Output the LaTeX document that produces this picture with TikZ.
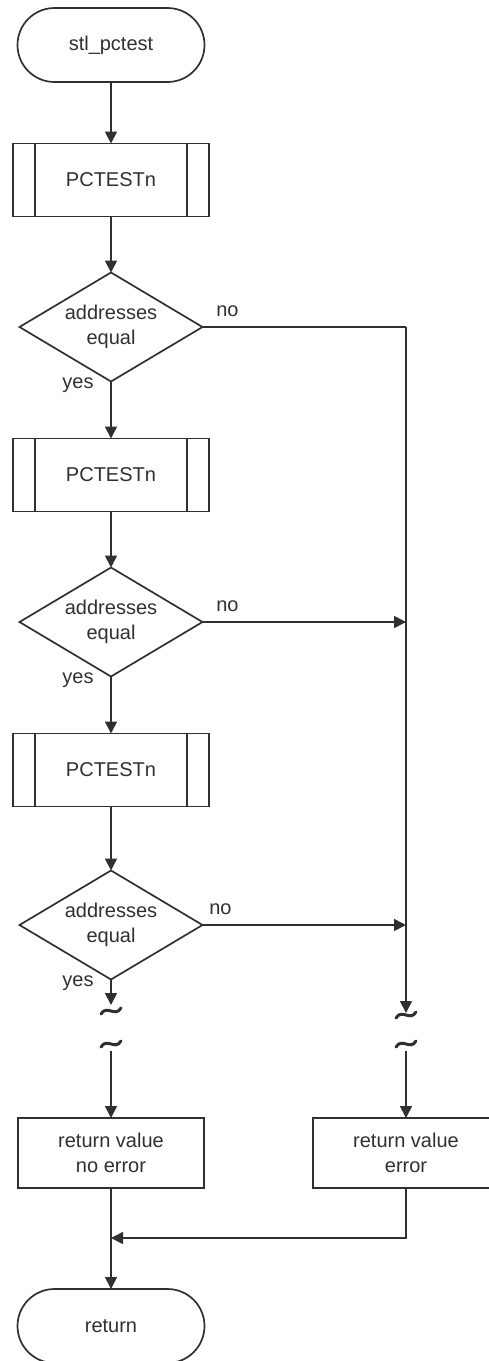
\documentclass[tikz,border=0pt]{standalone}
\usepackage{fontspec}
\setmainfont{Liberation Sans}
\usetikzlibrary{shapes.geometric,shapes.misc,arrows.meta}

\definecolor{ink}{HTML}{303030}

\tikzset{
  base/.style={draw=ink, line width=1.7pt, text=ink, inner sep=0pt, outer sep=0pt,
    font=\fontsize{20}{25}\selectfont, align=center},
  term/.style={base, rounded rectangle, minimum width=187pt, minimum height=74pt},
  subproc/.style={base, rectangle, minimum width=196pt, minimum height=73pt,
    path picture={
      \draw[ink, line width=1.7pt]
        ([xshift=22pt]path picture bounding box.north west) --
        ([xshift=22pt]path picture bounding box.south west)
        ([xshift=-22pt]path picture bounding box.north east) --
        ([xshift=-22pt]path picture bounding box.south east);}},
  decide/.style={base, diamond, aspect=1.68, minimum width=183pt, minimum height=109pt},
  proc/.style={base, rectangle, minimum width=186pt, minimum height=70pt},
  flow/.style={draw=ink, line width=1.7pt, -{Triangle[length=12pt,width=12pt]}},
  link/.style={draw=ink, line width=1.7pt},
  lbl/.style={text=ink, font=\fontsize{20}{24}\selectfont, inner sep=0pt},
  brk/.pic={\draw[ink, line width=3pt, line cap=round]
    (-10,3) .. controls (-4,-7) and (4,7) .. (10,-3);}
}

\begin{document}
\begin{tikzpicture}[x=1pt, y=-1pt]
  \useasboundingbox (0,0) rectangle (489,1361);

  % main column
  \node[term]    (start) at (111,45)   {stl\_pctest};
  \node[subproc] (p1)    at (111,180)  {PCTESTn};
  \node[decide]  (d1)    at (111,327)  {addresses\\equal};
  \node[subproc] (p2)    at (111,475)  {PCTESTn};
  \node[decide]  (d2)    at (111,622)  {addresses\\equal};
  \node[subproc] (p3)    at (111,770)  {PCTESTn};
  \node[decide]  (d3)    at (111,925)  {addresses\\equal};
  \node[proc]    (ok)    at (111,1153) {return value\\no error};
  \node[proc]    (err)   at (406,1153) {return value\\error};
  \node[term]    (ret)   at (111,1326) {return};

  % branch labels
  \node[lbl] at ([shift={(25,-16)}]d1.east) {no};
  \node[lbl] at ([shift={(25,-16)}]d2.east) {no};
  \node[lbl] at ([shift={(18,-16)}]d3.east) {no};
  \node[lbl] at ([shift={(-33,4)}]d1.south) {yes};
  \node[lbl] at ([shift={(-33,4)}]d2.south) {yes};
  \node[lbl] at ([shift={(-33,4)}]d3.south) {yes};

  % helper points on the error bus and at the breaks
  \coordinate (bus1)  at (406,327);
  \coordinate (bus2)  at (406,622);
  \coordinate (bus3)  at (406,925);
  \coordinate (lcut)  at (111,1005);
  \coordinate (lres)  at (111,1051);
  \coordinate (rcut)  at (406,1013);
  \coordinate (rres)  at (406,1051);
  \coordinate (join)  at (111,1238);

  % main flow
  \draw[flow] (start) -- (p1);
  \draw[flow] (p1) -- (d1);
  \draw[flow] (d1) -- (p2);
  \draw[flow] (p2) -- (d2);
  \draw[flow] (d2) -- (p3);
  \draw[flow] (p3) -- (d3);
  \draw[flow] (d3.south) -- (lcut);
  \draw[flow] (lres) -- (ok.north);

  % error path
  \draw[link] (d1.east) -- (bus1);
  \draw[flow] (bus1) -- (rcut);
  \draw[flow] (d2.east) -- (bus2);
  \draw[flow] (d3.east) -- (bus3);
  \draw[flow] (rres) -- (err.north);

  % page breaks
  \pic at (111,1011) {brk};
  \pic at (111,1044) {brk};
  \pic at (406,1015) {brk};
  \pic at (406,1044) {brk};

  % merge and return
  \draw[link] (err.south) |- ([xshift=2pt]join);
  \draw[flow] ([xshift=6pt]join) -- (join);
  \draw[flow] (ok.south) -- (ret.north);
\end{tikzpicture}
\end{document}
